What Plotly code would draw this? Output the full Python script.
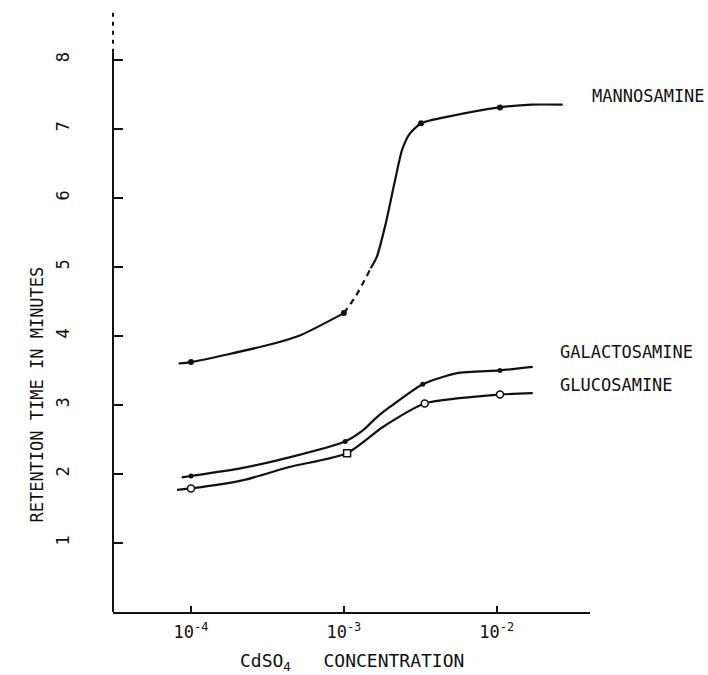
import math
import plotly.graph_objects as go

# ---------------- data ----------------
# Mannosamine curve (drawn line), split where the original is dashed
man_x1 = [8.3e-5, 1.0e-4, 3.1e-4, 5.2e-4, 1.0e-3]
man_y1 = [3.60, 3.62, 3.86, 4.01, 4.33]
man_xd = [1.0e-3, 1.2e-3, 1.5e-3]
man_yd = [4.33, 4.58, 4.98]
man_x2 = [1.5e-3, 1.64e-3, 1.88e-3, 2.16e-3, 2.4e-3, 2.7e-3, 3.2e-3, 4.9e-3, 1.05e-2, 1.7e-2, 2.7e-2]
man_y2 = [4.98, 5.14, 5.63, 6.25, 6.69, 6.93, 7.08, 7.18, 7.31, 7.35, 7.35]
man_px = [1.0e-4, 1.0e-3, 3.2e-3, 1.05e-2]
man_py = [3.62, 4.33, 7.08, 7.31]

# Galactosamine
gal_x = [8.7e-5, 1.0e-4, 2.1e-4, 4.4e-4, 1.02e-3, 1.33e-3, 1.64e-3, 2.0e-3, 3.28e-3, 5.5e-3, 1.05e-2, 1.72e-2]
gal_y = [1.95, 1.97, 2.08, 2.24, 2.47, 2.63, 2.82, 2.97, 3.30, 3.46, 3.50, 3.55]
gal_px = [1.0e-4, 1.02e-3, 3.28e-3, 1.05e-2]
gal_py = [1.97, 2.47, 3.30, 3.50]

# Glucosamine
glu_x = [8.1e-5, 1.0e-4, 2.2e-4, 4.4e-4, 1.05e-3, 1.8e-3, 3.38e-3, 1.05e-2, 1.72e-2]
glu_y = [1.77, 1.79, 1.91, 2.10, 2.30, 2.68, 3.02, 3.15, 3.17]
glu_cx = [1.0e-4, 3.38e-3, 1.05e-2]
glu_cy = [1.79, 3.02, 3.15]
glu_sx = [1.05e-3]
glu_sy = [2.30]

x_tickvals = [1e-4, 1e-3, 1e-2]
x_ticktext = ["10<sup>-4</sup>", "10<sup>-3</sup>", "10<sup>-2</sup>"]
y_tickvals = [1, 2, 3, 4, 5, 6, 7, 8]

labels = ["MANNOSAMINE", "GALACTOSAMINE", "GLUCOSAMINE"]
label_x = [4.05e-2, 2.5e-2, 2.5e-2]
label_y = [7.48, 3.76, 3.29]

FONT = "DejaVu Sans Mono"
INK = "#111111"
Y_MAX = 8.75
Y_SOLID_TOP = 8.1   # above this the y-axis line is drawn dashed in the original

fig = go.Figure()

def line(x, y, dash="solid", w=2.2):
    fig.add_trace(go.Scatter(x=x, y=y, mode="lines",
                             line=dict(color=INK, width=w, dash=dash, shape="spline", smoothing=0.6),
                             showlegend=False, hoverinfo="skip"))

line(man_x1, man_y1)
line(man_xd, man_yd, dash="6px,5px")
line(man_x2, man_y2)
line(gal_x, gal_y)
line(glu_x, glu_y)

fig.add_trace(go.Scatter(x=man_px, y=man_py, mode="markers", marker=dict(color=INK, size=6, symbol="circle"), showlegend=False))
fig.add_trace(go.Scatter(x=gal_px, y=gal_py, mode="markers", marker=dict(color=INK, size=5, symbol="circle"), showlegend=False))
fig.add_trace(go.Scatter(x=glu_cx, y=glu_cy, mode="markers", marker=dict(color="white", size=7, symbol="circle", line=dict(color=INK, width=1.5)), showlegend=False))
fig.add_trace(go.Scatter(x=glu_sx, y=glu_sy, mode="markers", marker=dict(color="white", size=7, symbol="square", line=dict(color=INK, width=1.5)), showlegend=False))

# curve labels (log axis: annotation x is given in log10 units)
for t, xv, yv in zip(labels, label_x, label_y):
    fig.add_annotation(x=math.log10(xv), y=yv, xref="x", yref="y", text=t, showarrow=False,
                       xanchor="left", yanchor="middle", font=dict(family=FONT, size=17, color=INK))

# axis titles
fig.add_annotation(xref="paper", yref="paper", x=0, y=0.36, xshift=-76, text="RETENTION TIME IN MINUTES",
                   textangle=-90, showarrow=False, xanchor="center", yanchor="middle",
                   font=dict(family=FONT, size=17, color=INK))
fig.add_annotation(xref="paper", yref="paper", x=0.5, y=0, yshift=-50,
                   text="CdSO<sub>4</sub>&nbsp;&nbsp;&nbsp;CONCENTRATION", showarrow=False,
                   xanchor="center", yanchor="middle", font=dict(family=FONT, size=18, color=INK))

# y-axis line: solid, then dashed at the top
fig.add_shape(type="line", xref="paper", yref="y", x0=0, x1=0, y0=0, y1=Y_SOLID_TOP,
              line=dict(color=INK, width=2))
fig.add_shape(type="line", xref="paper", yref="y", x0=0, x1=0, y0=Y_SOLID_TOP, y1=Y_MAX,
              line=dict(color=INK, width=2, dash="4px,5px"))

fig.update_layout(
    width=708, height=675,
    margin=dict(l=113, r=118, t=8, b=63),
    paper_bgcolor="white", plot_bgcolor="white",
    font=dict(family=FONT, color=INK),
    xaxis=dict(type="log", range=[-4.51, -1.39], tickvals=x_tickvals, ticktext=x_ticktext,
               ticks="inside", ticklen=6, tickwidth=1.5, tickcolor=INK,
               showline=True, linewidth=2, linecolor=INK, showgrid=False, zeroline=False,
               ticklabelstandoff=4,
               tickfont=dict(family=FONT, size=17, color=INK)),
    yaxis=dict(range=[0, Y_MAX], tickvals=y_tickvals, ticks="inside", ticklen=10, tickwidth=1.5, tickcolor=INK,
               showline=False, showgrid=False, zeroline=False,
               tickangle=-90, ticklabelstandoff=40,
               tickfont=dict(family=FONT, size=17, color=INK)),
)

fig.write_html("out.html")
